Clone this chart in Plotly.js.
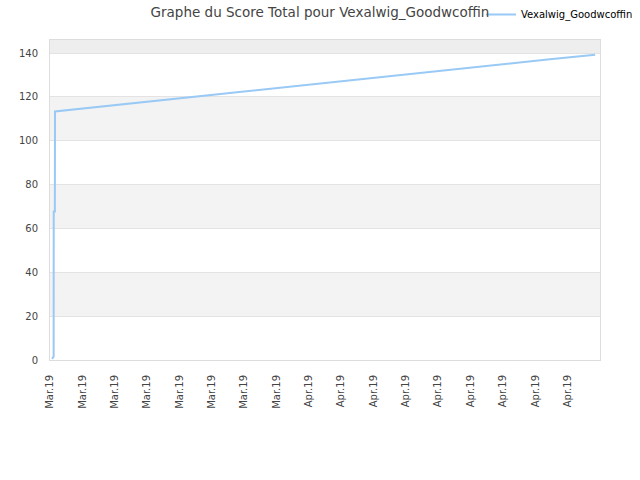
<!DOCTYPE html>
<html>
<head>
<meta charset="utf-8">
<script src="https://cdn.plot.ly/plotly-3.0.1.min.js"></script>
<style>
  body { margin: 0; }
  #chart { width: 640px; height: 480px; }
</style>
</head>
<body>
<div id="chart"></div>
<script>
// days since the first tick, and total score
const days = [0.25, 0.45, 0.46, 0.6, 0.62, 6.2, 12.4, 18.5, 24.7, 30.9, 37.1, 43.3, 50.7, 55.6, 61.8, 67.4];
const scores = [0.5, 1.5, 67.7, 67.7, 113.4, 115.6, 118.0, 120.4, 122.8, 125.2, 127.6, 130.0, 132.9, 134.8, 137.2, 139.3];

const tickDays = [0, 4, 8, 12, 16, 20, 24, 28, 32, 36, 40, 44, 48, 52, 56, 60, 64];
const tickLabels = ['Mar.19', 'Mar.19', 'Mar.19', 'Mar.19', 'Mar.19', 'Mar.19', 'Mar.19', 'Mar.19',
  'Apr.19', 'Apr.19', 'Apr.19', 'Apr.19', 'Apr.19', 'Apr.19', 'Apr.19', 'Apr.19', 'Apr.19'];

const yBands = [[20, 40], [60, 80], [100, 120], [140, 146]];
const playerName = 'Vexalwig_Goodwcoffin';

(function () {
  // alternating grey bands behind the grid
  const shapes = yBands.map(function (band) {
    return {
      type: 'rect',
      xref: 'paper',
      yref: 'y',
      x0: 0,
      x1: 1,
      y0: band[0],
      y1: band[1],
      fillcolor: band[0] >= 140 ? '#eeeeee' : '#f3f3f3',
      line: { width: 0 },
      layer: 'below'
    };
  });

  Plotly.newPlot('chart', [{
    x: days,
    y: scores,
    type: 'scatter',
    mode: 'lines',
    name: playerName,
    line: { color: '#99c9f5', width: 2 }
  }], {
    width: 640,
    height: 480,
    margin: { l: 50, r: 40, t: 40, b: 120, autoexpand: false },
    paper_bgcolor: '#ffffff',
    plot_bgcolor: 'rgba(0,0,0,0)',
    font: { family: 'DejaVu Sans, sans-serif', size: 10, color: '#444444' },
    title: {
      text: 'Graphe du Score Total pour ' + playerName,
      font: { size: 13.5, color: '#444444' },
      x: 0.5,
      y: 0.975,
      yanchor: 'middle'
    },
    showlegend: true,
    legend: {
      x: 0.7836,
      y: 1.125,
      xanchor: 'left',
      yanchor: 'top',
      bgcolor: 'rgba(255,255,255,0)',
      font: { size: 10, color: '#000000' }
    },
    xaxis: {
      range: [0, 68],
      tickmode: 'array',
      tickvals: tickDays,
      ticktext: tickLabels,
      tickangle: -90,
      tickfont: { size: 10, color: '#444444' },
      ticklabelstandoff: 10,
      showgrid: false,
      zeroline: false,
      showline: true,
      mirror: true,
      linecolor: '#dddddd',
      linewidth: 1,
      ticks: ''
    },
    yaxis: {
      range: [0, 146],
      dtick: 20,
      ticklabelstandoff: 9,
      showgrid: true,
      gridcolor: '#e3e3e3',
      zeroline: false,
      showline: true,
      mirror: true,
      linecolor: '#dddddd',
      linewidth: 1,
      ticks: ''
    },
    shapes: shapes
  }, {
    displayModeBar: false,
    staticPlot: true
  });
})();
</script>
</body>
</html>
